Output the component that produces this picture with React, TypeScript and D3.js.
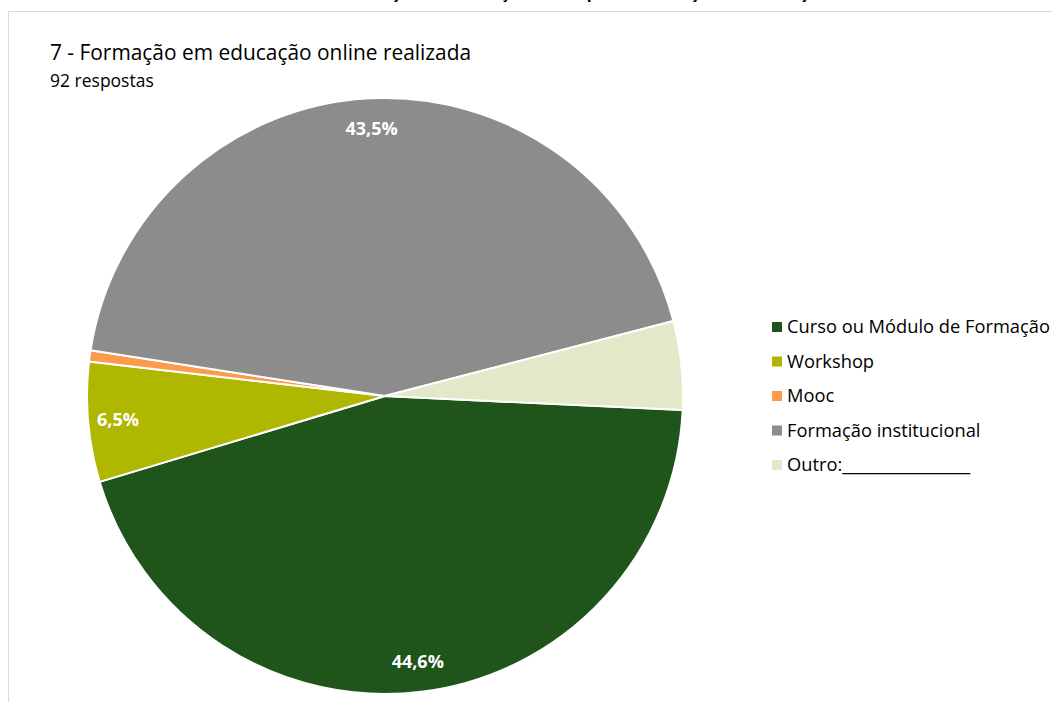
import React from "react";
import * as d3 from "d3";

const categories = [
  "Curso ou Módulo de Formação",
  "Workshop",
  "Mooc",
  "Formação institucional",
  "Outro:________________",
];
const percents = [44.6, 6.5, 0.6, 43.5, 4.8];
const labels = ["44,6%", "6,5%", "", "43,5%", ""];
const colors = ["#1f541b", "#b0b700", "#fc9a4e", "#8c8c8c", "#e3e9c8"];

const W = 1052;
const H = 702;
const cx = 385;
const cy = 396;
const R = 298;
const start = (92.7 * Math.PI) / 180;
const FONT = "'Open Sans', Lato, sans-serif";

export default function App() {
  const data = categories.map((c, i) => ({ c, v: percents[i], label: labels[i], color: colors[i] }));
  const pie = d3
    .pie<any>()
    .value((d) => d.v)
    .sort(null)
    .startAngle(start)
    .endAngle(start + 2 * Math.PI);
  const arcs = pie(data);
  const arc = d3.arc<any>().innerRadius(0).outerRadius(R);
  const labelArc = d3.arc<any>().innerRadius(268).outerRadius(268);

  return (
    <div style={{ position: "absolute", left: 0, top: 0, width: W, height: H }}>
      <svg width={W} height={H} style={{ display: "block", background: "#fff" }}>
        <text
          x={540}
          y={-2.5}
          textAnchor="middle"
          fontFamily={FONT}
          fontSize={16}
          fontWeight="bold"
          fill="#000"
        >
          Gráfico 7 – Formação em educação online para a formação em educação
        </text>
        <line x1={8.5} y1={11.5} x2={W} y2={11.5} stroke="#d9d9d9" strokeWidth={1} />
        <line x1={8.5} y1={11.5} x2={8.5} y2={H} stroke="#d9d9d9" strokeWidth={1} />
        <text x={50} y={60} fontFamily={FONT} fontSize={20.9} fill="#000">
          7 - Formação em educação online realizada
        </text>
        <text x={50} y={87} fontFamily={FONT} fontSize={17.5} fill="#000">
          92 respostas
        </text>
        <g transform={`translate(${cx},${cy})`}>
          {arcs.map((a, i) => (
            <path key={i} d={arc(a) as string} fill={a.data.color} stroke="#fff" strokeWidth={2} strokeLinejoin="round" />
          ))}
          {arcs.map((a, i) => {
            if (!a.data.label) return null;
            const [x, y] = labelArc.centroid(a);
            return (
              <text
                key={"l" + i}
                x={x}
                y={y}
                dy="0.35em"
                textAnchor="middle"
                fontFamily={FONT}
                fontSize={18}
                fontWeight="bold"
                fill="#fff"
              >
                {a.data.label}
              </text>
            );
          })}
        </g>
        <g>
          {categories.map((c, i) => (
            <g key={c} transform={`translate(772,${327 + i * 34.5})`}>
              <rect x={0} y={-5} width={10} height={10} fill={colors[i]} />
              <text x={15} y={0} dy="0.35em" fontFamily={FONT} fontSize={18.3} fill="#000">
                {c}
              </text>
            </g>
          ))}
        </g>
      </svg>
    </div>
  );
}
